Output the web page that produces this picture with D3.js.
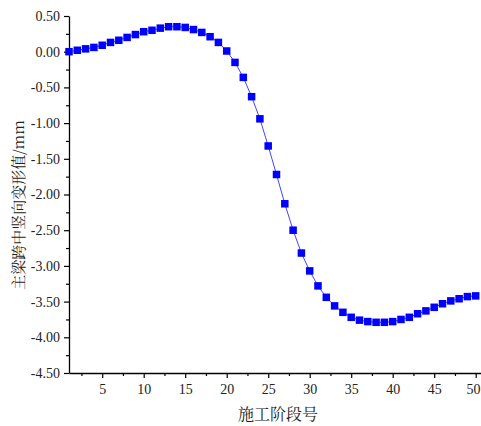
<!DOCTYPE html>
<html>
<head>
<meta charset="utf-8">
<script src="https://cdn.jsdelivr.net/npm/d3@7"></script>
<style>
  body { margin: 0; background: #fff; }
  svg { display: block; }
</style>
</head>
<body>
<div id="chart"></div>
<script>
// construction stage numbers and mid-span vertical deflection (mm)
const stages = d3.range(1, 51);
const deflection = [
  0.00, 0.02, 0.04, 0.06, 0.09, 0.13, 0.16, 0.20, 0.24, 0.28,
  0.30, 0.33, 0.35, 0.35, 0.34, 0.31, 0.27, 0.21, 0.13, 0.01,
  -0.15, -0.36, -0.63, -0.94, -1.32, -1.72, -2.13, -2.50, -2.82, -3.07,
  -3.28, -3.44, -3.56, -3.65, -3.72, -3.76, -3.78, -3.79, -3.79, -3.78,
  -3.75, -3.72, -3.67, -3.63, -3.58, -3.53, -3.49, -3.46, -3.43, -3.42
];
const xTicks = [5, 10, 15, 20, 25, 30, 35, 40, 45, 50];
const yTicks = [0.5, 0, -0.5, -1, -1.5, -2, -2.5, -3, -3.5, -4, -4.5];
const xLabel = "施工阶段号";
const yLabel = "主梁跨中竖向变形值/mm";

const width = 481, height = 426;
const margin = { top: 16, left: 69, bottom: 53 };

const svg = d3.select("#chart").append("svg")
  .attr("width", width)
  .attr("height", height);

const x = d3.scaleLinear()
  .domain([1, 51.5])
  .range([margin.left, margin.left + 50.5 * 8.3]);

const y = d3.scaleLinear()
  .domain([-4.5, 0.5])
  .range([height - margin.bottom, margin.top]);

const serif = "'Liberation Serif', 'Times New Roman', serif";
const cjk = "'Noto Serif CJK SC', 'Noto Sans CJK SC', serif";

// minor ticks
const xMinor = d3.range(2.5, 51, 5);
const yMinor = d3.range(-4.25, 0.5, 0.5);

svg.append("g")
  .attr("transform", `translate(0,${y(-4.5)})`)
  .call(d3.axisBottom(x).tickValues(xMinor).tickSize(3).tickFormat(""))
  .call(g => g.select(".domain").remove());

svg.append("g")
  .attr("transform", `translate(${x(1)},0)`)
  .call(d3.axisLeft(y).tickValues(yMinor).tickSize(3).tickFormat(""))
  .call(g => g.select(".domain").remove());

const xAxis = svg.append("g")
  .attr("transform", `translate(0,${y(-4.5)})`)
  .call(d3.axisBottom(x).tickValues(xTicks).tickSize(5).tickSizeOuter(0).tickPadding(6));

const yAxis = svg.append("g")
  .attr("transform", `translate(${x(1)},0)`)
  .call(d3.axisLeft(y).tickValues(yTicks).tickSize(5).tickSizeOuter(0).tickPadding(4)
    .tickFormat(d3.format(".2f")));

[xAxis, yAxis].forEach(g => {
  g.selectAll("text")
    .style("font-family", serif)
    .style("font-size", "14px")
    .style("fill", "#222");
  g.select(".domain").attr("stroke", "#000").attr("stroke-width", 1.3);
});
svg.selectAll(".tick line").attr("stroke", "#000").attr("stroke-width", 1.2);
yAxis.selectAll("text").text(d => d3.format(".2f")(d).replace("−", "-"));
// keep the last label inside the window
xAxis.selectAll(".tick text").filter(d => d === 50)
  .attr("text-anchor", "end")
  .attr("x", width - 1 - x(50));

// line + markers
const pts = stages.map((s, i) => ({ s, v: deflection[i] }));

svg.append("path")
  .datum(pts)
  .attr("fill", "none")
  .attr("stroke", "#4444ff")
  .attr("stroke-width", 1)
  .attr("d", d3.line().x(d => x(d.s)).y(d => y(d.v)));

const ms = 7.5;
svg.selectAll("rect.pt")
  .data(pts)
  .enter()
  .append("rect")
  .attr("class", "pt")
  .attr("x", d => x(d.s) - ms / 2)
  .attr("y", d => y(d.v) - ms / 2)
  .attr("width", ms)
  .attr("height", ms)
  .attr("fill", "#0000ff");

// axis titles
svg.append("text")
  .attr("x", 278)
  .attr("y", 420)
  .attr("text-anchor", "middle")
  .style("font-family", cjk)
  .style("font-size", "16px")
  .style("fill", "#222")
  .text(xLabel);

svg.append("text")
  .attr("transform", "translate(24,205) rotate(-90)")
  .attr("text-anchor", "middle")
  .style("font-family", cjk)
  .style("font-size", "15px")
  .style("fill", "#222")
  .text(yLabel);
</script>
</body>
</html>
